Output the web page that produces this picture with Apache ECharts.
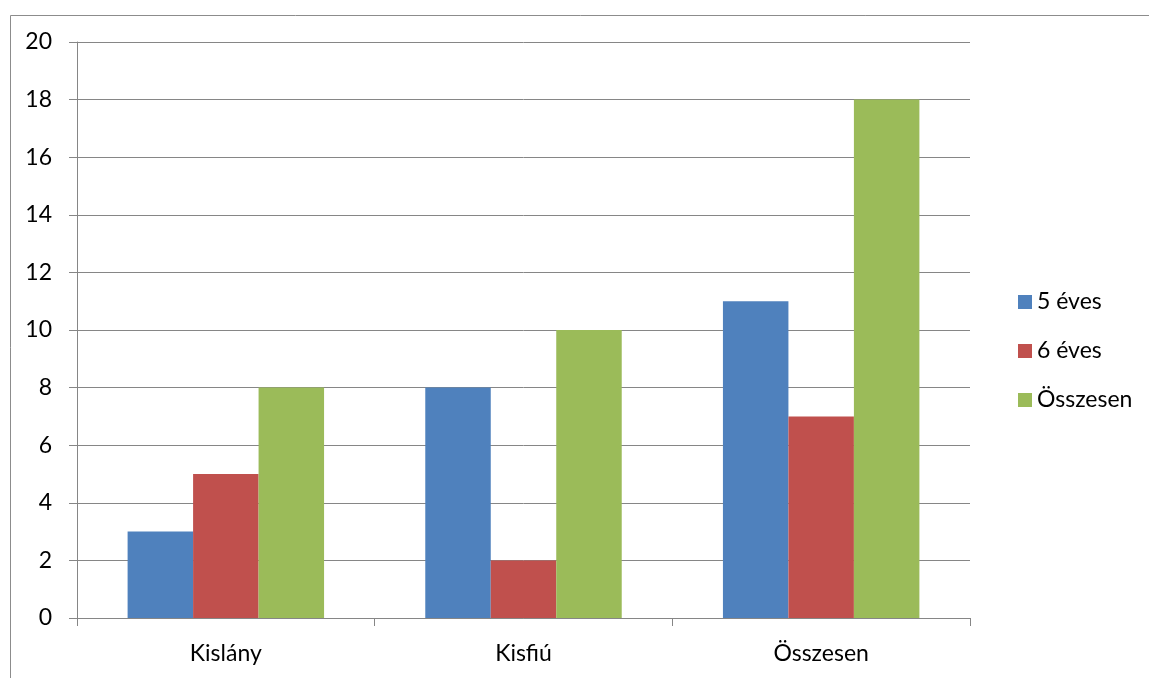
<!DOCTYPE html>
<html>
<head>
<meta charset="utf-8">
<script src="https://cdn.jsdelivr.net/npm/echarts@6/dist/echarts.min.js"></script>
<style>
  html, body { margin: 0; padding: 0; background: #fff; }
  #chart { width: 1149px; height: 678px; }
</style>
</head>
<body>
<div id="chart"></div>
<script>
// kategóriák és sorozatok
var categories = ['Kislány', 'Kisfiú', 'Összesen'];
var seriesNames = ['5 éves', '6 éves', 'Összesen'];
var otEves = [3, 8, 11];
var hatEves = [5, 2, 7];
var osszesen = [8, 10, 18];
var yTicks = [0, 20, 2]; // min, max, interval

var colors = ['#4F81BD', '#C0504D', '#9BBB59'];
var fontName = 'Lato, "Open Sans", sans-serif';

var myChart = echarts.init(document.getElementById('chart'));

var option = {
    animation: false,
    color: colors,
    graphic: [{
        type: 'rect',
        left: 8,
        top: 13,
        shape: { width: 1300, height: 800 },
        style: { fill: 'none', stroke: '#8c8c8c', lineWidth: 1 },
        silent: true
    }],
    grid: {
        left: 77,
        right: 179,
        top: 42,
        bottom: 60
    },
    legend: {
        orient: 'vertical',
        left: 1013,
        top: 285,
        itemWidth: 14,
        itemHeight: 14,
        itemGap: 25,
        icon: 'rect',
        textStyle: {
            fontFamily: fontName,
            fontSize: 23,
            color: '#000',
            lineHeight: 24
        },
        data: seriesNames
    },
    xAxis: {
        type: 'category',
        data: categories,
        axisLine: { lineStyle: { color: '#868686', width: 1 } },
        axisTick: { show: true, length: 8, lineStyle: { color: '#868686' } },
        axisLabel: {
            margin: 24,
            fontFamily: fontName,
            fontSize: 23,
            color: '#000'
        }
    },
    yAxis: {
        type: 'value',
        min: yTicks[0],
        max: yTicks[1],
        interval: yTicks[2],
        axisLine: { show: true, lineStyle: { color: '#868686', width: 1 } },
        axisTick: { show: true, length: 8, lineStyle: { color: '#868686' } },
        splitLine: { lineStyle: { color: '#868686', width: 1 } },
        axisLabel: {
            margin: 25,
            fontFamily: fontName,
            fontSize: 23,
            color: '#000'
        }
    },
    series: [
        {
            name: seriesNames[0],
            type: 'bar',
            data: otEves,
            barGap: '0%',
            barCategoryGap: '34%'
        },
        {
            name: seriesNames[1],
            type: 'bar',
            data: hatEves,
            barGap: '0%',
            barCategoryGap: '34%'
        },
        {
            name: seriesNames[2],
            type: 'bar',
            data: osszesen,
            barGap: '0%',
            barCategoryGap: '34%'
        }
    ]
};

myChart.setOption(option);
</script>
</body>
</html>
